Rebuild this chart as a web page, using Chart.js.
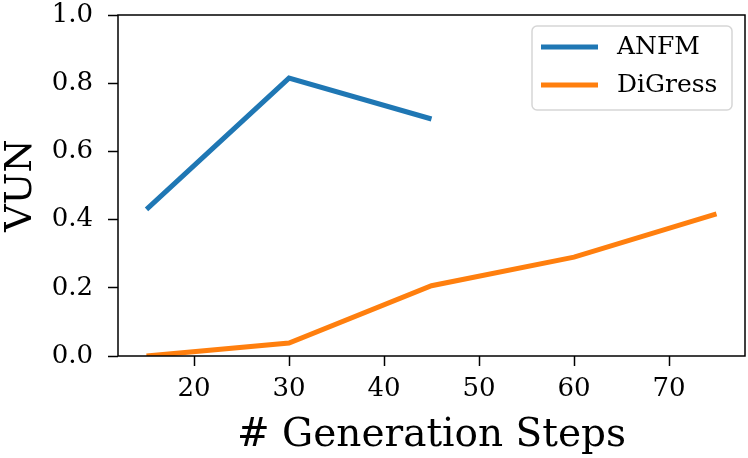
<!DOCTYPE html>
<html>
<head>
<meta charset="utf-8">
<script src="https://cdn.jsdelivr.net/npm/chart.js@4/dist/chart.umd.min.js"></script>
<style>
  html, body { margin: 0; padding: 0; background: #fff; }
  #wrap { width: 748px; height: 458px; }
</style>
</head>
<body>
<div id="wrap"><canvas id="vunChart" width="748" height="458"></canvas></div>
<script>
// data
const steps = [15, 30, 45, 60, 75];
const anfmVun = [0.43, 0.815, 0.695];
const digressVun = [0.0, 0.038, 0.206, 0.29, 0.417];
const xTicks = [20, 30, 40, 50, 60, 70];
const yTicks = [0.0, 0.2, 0.4, 0.6, 0.8, 1.0];

const FONT = "'DejaVu Serif', serif";

function toPoints(xs, ys) {
    return ys.map((y, i) => ({x: xs[i], y: y}));
}

// matplotlib style box around the axes, drawn over the lines
const frame = {
    id: 'frame',
    afterDatasetsDraw(chart) {
        const a = chart.chartArea;
        const c = chart.ctx;
        c.save();
        c.strokeStyle = '#000';
        c.lineWidth = 1.5;
        c.strokeRect(a.left, a.top, a.right - a.left, a.bottom - a.top);
        c.restore();
    }
};

// legend box in the upper right corner
const boxLegend = {
    id: 'boxLegend',
    afterDraw(chart) {
        const c = chart.ctx;
        const x = 532, y = 26, w = 200, h = 84, r = 5;
        c.save();
        c.beginPath();
        c.roundRect(x, y, w, h, r);
        c.fillStyle = 'rgba(255,255,255,0.8)';
        c.fill();
        c.strokeStyle = '#d6d6d6';
        c.lineWidth = 1.5;
        c.stroke();
        c.font = '25px ' + FONT;
        c.textBaseline = 'middle';
        chart.data.datasets.forEach((ds, i) => {
            const ly = y + 21 + i * 38;
            c.strokeStyle = ds.borderColor;
            c.lineWidth = 5;
            c.beginPath();
            c.moveTo(x + 9, ly);
            c.lineTo(x + 66, ly);
            c.stroke();
            c.fillStyle = '#000';
            c.fillText(ds.label, x + 85, ly);
        });
        c.restore();
    }
};

const ctx = document.getElementById('vunChart').getContext('2d');
new Chart(ctx, {
    type: 'line',
    data: {
        datasets: [{
            label: 'ANFM',
            data: toPoints(steps, anfmVun),
            borderColor: '#1f77b4',
            borderWidth: 5,
            pointRadius: 0,
            tension: 0,
            clip: 0
        }, {
            label: 'DiGress',
            data: toPoints(steps, digressVun),
            borderColor: '#ff7f0e',
            borderWidth: 5,
            pointRadius: 0,
            tension: 0,
            clip: 0
        }]
    },
    options: {
        responsive: false,
        animation: false,
        layout: { padding: { top: 15, right: 3, left: 0, bottom: 0 } },
        plugins: {
            legend: { display: false },
            tooltip: { enabled: false }
        },
        scales: {
            x: {
                type: 'linear',
                min: 12,
                max: 78,
                afterBuildTicks: s => { s.ticks = xTicks.map(v => ({value: v})); },
                afterFit: s => { s.height = 102; s.paddingLeft = 0; s.paddingRight = 0; },
                border: { display: false },
                grid: { drawOnChartArea: false, tickLength: 10, tickWidth: 1.5, tickColor: '#000' },
                ticks: { color: '#000', font: { family: FONT, size: 26 }, padding: 8, maxRotation: 0 },
                title: {
                    display: true,
                    text: '# Generation Steps',
                    color: '#000',
                    font: { family: FONT, size: 39, lineHeight: 1.1 },
                    padding: { top: 0, bottom: 1 }
                }
            },
            y: {
                min: 0,
                max: 1,
                afterBuildTicks: s => { s.ticks = yTicks.map(v => ({value: v})); },
                afterFit: s => { s.width = 118; s.paddingTop = 0; s.paddingBottom = 0; },
                border: { display: false },
                grid: { drawOnChartArea: false, tickLength: 10, tickWidth: 1.5, tickColor: '#000' },
                ticks: {
                    color: '#000',
                    font: { family: FONT, size: 26 },
                    padding: 15,
                    callback: v => v.toFixed(1)
                },
                title: {
                    display: true,
                    text: 'VUN',
                    color: '#000',
                    font: { family: FONT, size: 38, lineHeight: 1.1 },
                    padding: 0
                }
            }
        }
    },
    plugins: [frame, boxLegend]
});
</script>
</body>
</html>
